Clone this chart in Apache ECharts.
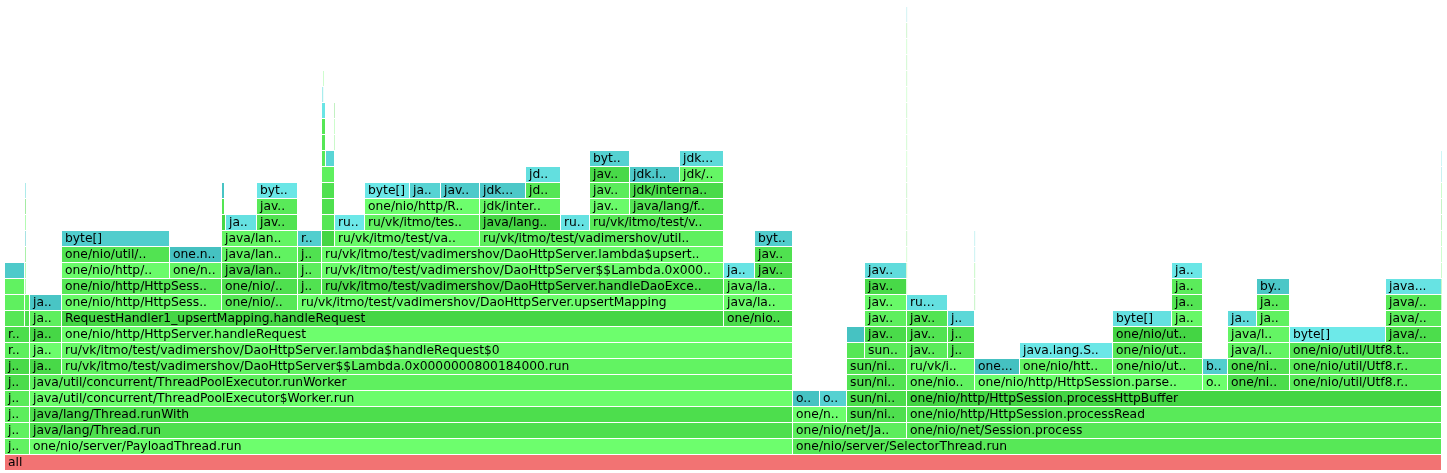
<!DOCTYPE html>
<html>
<head>
<meta charset="utf-8">
<script src="https://cdn.jsdelivr.net/npm/echarts@6/dist/echarts.min.js"></script>
<style>
html,body{margin:0;padding:0;background:#fff;}
#chart{width:1447px;height:473px;}
</style>
</head>
<body>
<div id="chart"></div>
<script>
// Flame graph frames: [level, startSample, sampleCount, label, kind]
// kind: 'r' root, 'j' java (green), 'a' allocation (cyan)
const TOTAL_SAMPLES = 1437;
const MAX_DEPTH = 29;

const rootFrames = [
  [0, 0, 1437, 'all', 'r']
];

const leftColumnFrames = [
  [1, 0, 25, 'j..', 'j'], [2, 0, 25, 'j..', 'j'], [3, 0, 25, 'j..', 'j'],
  [4, 0, 25, 'j..', 'j'], [5, 0, 25, 'j..', 'j'], [6, 0, 25, 'j..', 'j'],
  [7, 0, 25, 'r..', 'j'], [8, 0, 25, 'r..', 'j'],
  [9, 0, 20, '', 'j'], [9, 20, 5, '', 'j'],
  [10, 0, 20, '', 'j'], [10, 20, 5, '', 'j'],
  [11, 0, 20, '', 'j'], [12, 0, 20, '', 'a']
];

const payloadFrames = [
  [1, 25, 763, 'one/nio/server/PayloadThread.run', 'j'],
  [2, 25, 763, 'java/lang/Thread.run', 'j'],
  [3, 25, 763, 'java/lang/Thread.runWith', 'j'],
  [4, 25, 763, 'java/util/concurrent/ThreadPoolExecutor$Worker.run', 'j'],
  [5, 25, 763, 'java/util/concurrent/ThreadPoolExecutor.runWorker', 'j'],
  [6, 25, 32, 'ja..', 'j'],
  [6, 57, 731, 'ru/vk/itmo/test/vadimershov/DaoHttpServer$$Lambda.0x0000000800184000.run', 'j'],
  [7, 25, 32, 'ja..', 'j'],
  [7, 57, 731, 'ru/vk/itmo/test/vadimershov/DaoHttpServer.lambda$handleRequest$0', 'j'],
  [8, 25, 32, 'ja..', 'j'],
  [8, 57, 731, 'one/nio/http/HttpServer.handleRequest', 'j'],
  [9, 25, 32, 'ja..', 'j'],
  [9, 57, 662, 'RequestHandler1_upsertMapping.handleRequest', 'j'],
  [9, 719, 69, 'one/nio..', 'j'],
  [10, 25, 32, 'ja..', 'a'],
  [10, 57, 160, 'one/nio/http/HttpSess..', 'j'],
  [10, 217, 76, 'one/nio/..', 'j'],
  [10, 293, 426, 'ru/vk/itmo/test/vadimershov/DaoHttpServer.upsertMapping', 'j'],
  [10, 719, 69, 'java/la..', 'j'],
  [11, 57, 160, 'one/nio/http/HttpSess..', 'j'],
  [11, 217, 76, 'one/nio/..', 'j'],
  [11, 293, 24, 'j..', 'j'],
  [11, 317, 402, 'ru/vk/itmo/test/vadimershov/DaoHttpServer.handleDaoExce..', 'j'],
  [11, 719, 69, 'java/la..', 'j'],
  [12, 57, 108, 'one/nio/http/..', 'j'],
  [12, 165, 52, 'one/ni..', 'j'],
  [12, 217, 76, 'java/lan..', 'j'],
  [12, 293, 24, 'j..', 'j'],
  [12, 317, 402, 'ru/vk/itmo/test/vadimershov/DaoHttpServer$$Lambda.0x000..', 'j'],
  [12, 719, 31, 'ja..', 'a'],
  [12, 750, 38, 'jav..', 'j'],
  [13, 57, 108, 'one/nio/util/..', 'j'],
  [13, 165, 52, 'one.n..', 'a'],
  [13, 217, 76, 'java/lan..', 'j'],
  [13, 293, 24, 'j..', 'j'],
  [13, 317, 402, 'ru/vk/itmo/test/vadimershov/DaoHttpServer.lambda$upsert..', 'j'],
  [13, 750, 38, 'jav..', 'j'],
  [14, 57, 108, 'byte[]', 'a'],
  [14, 217, 76, 'java/lan..', 'j'],
  [14, 293, 24, 'r..', 'a'],
  [14, 317, 13, '', 'j'],
  [14, 330, 145, 'ru/vk/itmo/test/va..', 'j'],
  [14, 475, 244, 'ru/vk/itmo/test/vadimershov/util..', 'j'],
  [14, 750, 38, 'byt..', 'a'],
  [15, 217, 4, '', 'j'],
  [15, 221, 31, 'ja..', 'a'],
  [15, 252, 41, 'jav..', 'j'],
  [15, 317, 13, '', 'j'],
  [15, 330, 30, 'ru..', 'a'],
  [15, 360, 115, 'ru/vk/itmo/tes..', 'j'],
  [15, 475, 81, 'java/lang..', 'j'],
  [15, 556, 29, 'ru..', 'a'],
  [15, 585, 134, 'ru/vk/itmo/test/v..', 'j'],
  [16, 217, 3, '', 'j'],
  [16, 252, 41, 'jav..', 'j'],
  [16, 317, 13, '', 'j'],
  [16, 360, 115, 'one/nio/http/R..', 'j'],
  [16, 475, 81, 'jdk/inter..', 'j'],
  [16, 585, 40, 'jav..', 'j'],
  [16, 625, 94, 'java/lang/f..', 'j'],
  [17, 217, 3, '', 'a'],
  [17, 252, 41, 'byt..', 'a'],
  [17, 317, 13, '', 'j'],
  [17, 360, 45, 'byte[]', 'a'],
  [17, 405, 31, 'ja..', 'a'],
  [17, 436, 39, 'jav..', 'a'],
  [17, 475, 46, 'jdk...', 'a'],
  [17, 521, 35, 'jd..', 'j'],
  [17, 585, 40, 'jav..', 'j'],
  [17, 625, 94, 'jdk/interna..', 'j'],
  [18, 317, 13, '', 'j'],
  [18, 521, 35, 'jd..', 'a'],
  [18, 585, 40, 'jav..', 'j'],
  [18, 625, 50, 'jdk.i..', 'a'],
  [18, 675, 44, 'jdk/..', 'j'],
  [19, 317, 4, '', 'j'],
  [19, 321, 9, '', 'a'],
  [19, 585, 40, 'byt..', 'a'],
  [19, 675, 44, 'jdk...', 'a'],
  [20, 317, 4, '', 'j'],
  [21, 317, 4, '', 'j'],
  [22, 317, 4, '', 'a'],
  [23, 317, 2, '', 'a']
];

const selectorFrames = [
  [1, 788, 649, 'one/nio/server/SelectorThread.run', 'j'],
  [2, 788, 114, 'one/nio/net/Ja..', 'j'],
  [2, 902, 535, 'one/nio/net/Session.process', 'j'],
  [3, 788, 54, 'one/n..', 'j'],
  [3, 842, 60, 'sun/ni..', 'j'],
  [3, 902, 535, 'one/nio/http/HttpSession.processRead', 'j'],
  [4, 788, 27, 'o..', 'a'],
  [4, 815, 27, 'o..', 'a'],
  [4, 842, 60, 'sun/ni..', 'j'],
  [4, 902, 535, 'one/nio/http/HttpSession.processHttpBuffer', 'j'],
  [5, 842, 60, 'sun/ni..', 'j'],
  [5, 902, 68, 'one/nio..', 'j'],
  [5, 970, 228, 'one/nio/http/HttpSession.parse..', 'j'],
  [5, 1198, 25, 'o..', 'j'],
  [5, 1223, 62, 'one/ni..', 'j'],
  [5, 1285, 152, 'one/nio/util/Utf8.r..', 'j'],
  [6, 842, 60, 'sun/ni..', 'j'],
  [6, 902, 68, 'ru/vk/i..', 'j'],
  [6, 970, 45, 'one...', 'a'],
  [6, 1015, 93, 'one/nio/htt..', 'j'],
  [6, 1108, 90, 'one/nio/ut..', 'j'],
  [6, 1198, 25, 'b..', 'a'],
  [6, 1223, 62, 'one/ni..', 'j'],
  [6, 1285, 152, 'one/nio/util/Utf8.r..', 'j'],
  [7, 842, 18, '', 'j'],
  [7, 860, 42, 'sun..', 'j'],
  [7, 902, 41, 'jav..', 'j'],
  [7, 943, 27, 'j..', 'j'],
  [7, 1015, 93, 'java.lang.S..', 'a'],
  [7, 1108, 90, 'one/nio/ut..', 'j'],
  [7, 1223, 62, 'java/l..', 'j'],
  [7, 1285, 152, 'one/nio/util/Utf8.t..', 'j'],
  [8, 842, 18, '', 'a'],
  [8, 860, 42, 'jav..', 'j'],
  [8, 902, 41, 'jav..', 'j'],
  [8, 943, 27, 'j..', 'j'],
  [8, 1108, 90, 'one/nio/ut..', 'j'],
  [8, 1223, 62, 'java/l..', 'j'],
  [8, 1285, 96, 'byte[]', 'a'],
  [8, 1381, 56, 'java/..', 'j'],
  [9, 860, 42, 'jav..', 'j'],
  [9, 902, 41, 'jav..', 'j'],
  [9, 943, 27, 'j..', 'a'],
  [9, 1108, 59, 'byte[]', 'a'],
  [9, 1167, 31, 'ja..', 'j'],
  [9, 1223, 29, 'ja..', 'a'],
  [9, 1252, 33, 'ja..', 'j'],
  [9, 1381, 56, 'java/..', 'j'],
  [10, 860, 42, 'jav..', 'j'],
  [10, 902, 41, 'ru...', 'a'],
  [10, 1167, 31, 'ja..', 'j'],
  [10, 1252, 33, 'ja..', 'j'],
  [10, 1381, 56, 'java/..', 'j'],
  [11, 860, 42, 'jav..', 'j'],
  [11, 1167, 31, 'ja..', 'j'],
  [11, 1252, 33, 'by..', 'a'],
  [11, 1381, 56, 'java...', 'a'],
  [12, 860, 42, 'jav..', 'a'],
  [12, 1167, 31, 'ja..', 'a']
];

// very narrow frames (sub-pixel spikes)
const narrowFrames = [
  [11, 20, 1.5, '', 'j'], [12, 20, 1.5, '', 'j'], [13, 20, 1.5, '', 'j'], [14, 20, 1.5, '', 'a'],
  [15, 20, 1.5, '', 'j'], [16, 20, 1.5, '', 'j'], [17, 20, 1.5, '', 'a'],
  [20, 329, 1, '', 'j'], [21, 329, 1, '', 'j'], [22, 329, 1, '', 'j'], [24, 318, 1, '', 'j'],
  [11, 901.6, 0.8, '', 'j'], [12, 901.6, 0.8, '', 'j'], [13, 901.6, 0.8, '', 'j'], [14, 901.6, 0.8, '', 'j'],
  [15, 901.6, 0.8, '', 'j'], [16, 901.6, 0.8, '', 'j'], [17, 901.6, 0.8, '', 'j'], [18, 901.6, 0.8, '', 'j'],
  [19, 901.6, 0.8, '', 'j'], [20, 901.6, 0.8, '', 'j'], [21, 901.6, 0.8, '', 'j'], [22, 901.6, 0.8, '', 'j'],
  [23, 901.6, 0.8, '', 'j'], [24, 901.6, 0.8, '', 'j'], [25, 901.6, 0.8, '', 'j'], [26, 901.6, 0.8, '', 'j'],
  [27, 901.6, 0.8, '', 'j'], [28, 901.6, 0.8, '', 'a'],
  [10, 969.5, 1, '', 'j'], [11, 969.5, 1, '', 'j'], [12, 969.5, 1, '', 'j'], [13, 969.5, 1, '', 'a'], [14, 969.5, 1, '', 'a'],
  [10, 1436, 1, '', 'j'], [11, 1436, 1, '', 'j'], [12, 1436, 1, '', 'j'], [13, 1436, 1, '', 'j'], [14, 1436, 1, '', 'j'],
  [15, 1436, 1, '', 'j'], [16, 1436, 1, '', 'j'], [17, 1436, 1, '', 'j'], [18, 1436, 1, '', 'a'], [19, 1436, 1, '', 'a']
];

const frames = [].concat(rootFrames, leftColumnFrames, payloadFrames, selectorFrames, narrowFrames);

function shade(i) {
  let h = (i * 2654435761) >>> 0;
  h ^= h >>> 13; h = Math.imul(h, 1274126177) >>> 0; h ^= h >>> 16;
  return (h % 1000) / 1000;
}
function frameColor(kind, i) {
  const n = 0.3 + 0.7 * shade(i + 7);
  let r, g, b;
  if (kind === 'r') { r = 0xf2; g = 0x73; b = 0x73; }
  else if (kind === 'a') { r = 0x50 + n * 30; g = 0xcc + n * 30; b = 0xcc + n * 30; }
  else { r = 0x50 + n * 30; g = 0xe1 + n * 30; b = 0x50 + n * 30; }
  return 'rgb(' + Math.round(r) + ',' + Math.round(g) + ',' + Math.round(b) + ')';
}

const chart = echarts.init(document.getElementById('chart'), null, { renderer: 'canvas' });
chart.setOption({
  backgroundColor: '#ffffff',
  animation: false,
  grid: { left: 5, right: 5, top: 7, bottom: 2 },
  xAxis: { type: 'value', min: 0, max: TOTAL_SAMPLES, show: false },
  yAxis: { type: 'value', min: 0, max: MAX_DEPTH, show: false },
  series: [{
    type: 'custom',
    clip: false,
    data: frames.map(f => [f[0], f[1], f[2]]),
    renderItem: function (params, api) {
      const f = frames[params.dataIndex];
      const level = api.value(0), start = api.value(1), w = api.value(2);
      const p0 = api.coord([start, level + 1]);
      const p1 = api.coord([start + w, level]);
      const wpx = p1[0] - p0[0];
      const hpx = p1[1] - p0[1];
      const narrow = wpx < 2.5;
      const rw = narrow ? wpx * 0.6 : wpx - 1;
      const color = frameColor(f[4], params.dataIndex);
      const children = [{
        type: 'rect',
        shape: { x: p0[0], y: p0[1], width: rw, height: hpx - 1 },
        style: { fill: color, opacity: narrow ? 0.55 : 1 }
      }];
      if (f[3]) {
        children.push({
          type: 'text',
          x: p0[0] + 3,
          y: p0[1] + (hpx - 1) / 2 + 0.5,
          style: {
            text: f[3],
            fill: '#000000',
            font: '12.3px Verdana, "DejaVu Sans", sans-serif',
            verticalAlign: 'middle',
            align: 'left',
            width: Math.max(rw - 4, 1),
            overflow: 'truncate',
            ellipsis: '..'
          }
        });
      }
      return { type: 'group', children: children };
    }
  }]
});
</script>
</body>
</html>
